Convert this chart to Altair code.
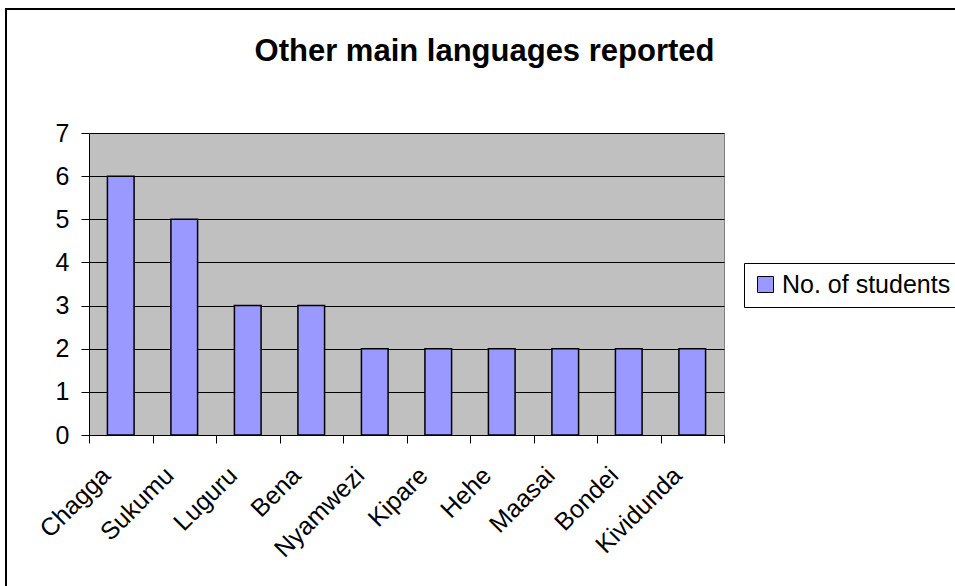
import altair as alt
import pandas as pd

languages = ["Chagga", "Sukumu", "Luguru", "Bena", "Nyamwezi", "Kipare", "Hehe", "Maasai", "Bondei", "Kividunda"]
students = [6, 5, 3, 3, 2, 2, 2, 2, 2, 2]
series_name = "No. of students"
y_ticks = [0, 1, 2, 3, 4, 5, 6, 7]

df = pd.DataFrame({"language": languages, "students": students, "series": [series_name] * len(languages)})

FONT = "Liberation Sans"

frame = alt.Chart(pd.DataFrame({"k": [0]})).mark_rect(
    filled=False, stroke="black", strokeWidth=2
).encode(
    x=alt.value(-83), x2=alt.value(1000), y=alt.value(-124), y2=alt.value(700)
)

bars = alt.Chart(df).mark_bar(
    width=alt.RelativeBandSize(0.42), stroke="black", strokeWidth=1.5
).encode(
    x=alt.X("language:N", sort=languages,
            scale=alt.Scale(paddingInner=0, paddingOuter=0),
            axis=alt.Axis(title=None, tickBand="extent", ticks=True, tickSize=8,
                          tickColor="black", domainColor="black", domainWidth=1,
                          labelAngle=-45, labelAlign="right", labelBaseline="middle",
                          labelFont=FONT, labelFontSize=25, labelColor="black",
                          labelPadding=28, labelOffset=-15, grid=False)),
    y=alt.Y("students:Q", scale=alt.Scale(domain=[0, 7], nice=False),
            axis=alt.Axis(title=None, values=y_ticks, tickSize=8, tickColor="black",
                          domainColor="black", labelFont=FONT, labelFontSize=25,
                          labelColor="black", labelPadding=12, grid=True,
                          gridColor="black", gridWidth=1)),
    color=alt.Color("series:N", scale=alt.Scale(range=["#9999FF"]),
                    legend=alt.Legend(title=None, orient="none", legendX=655, legendY=130,
                                      symbolType="square", symbolSize=256,
                                      symbolStrokeColor="black", symbolStrokeWidth=1,
                                      labelFont=FONT, labelFontSize=25, labelColor="black",
                                      labelOffset=4, labelLimit=500, padding=9,
                                      strokeColor="black", fillColor="white")),
)

chart = alt.layer(frame, bars).properties(
    width=635, height=302,
    title=alt.TitleParams("Other main languages reported", font=FONT, fontSize=31,
                          fontWeight="bold", color="black", anchor="middle", dx=78,
                          baseline="alphabetic", offset=-84),
    autosize=alt.AutoSizeParams(type="none"),
    padding={"left": 89, "top": 133, "right": 231, "bottom": 151},
    background="white",
).configure_view(fill="#C0C0C0", stroke="#808080", strokeWidth=1)

chart.save("out.html", embed_options={"renderer": "svg", "actions": False})
